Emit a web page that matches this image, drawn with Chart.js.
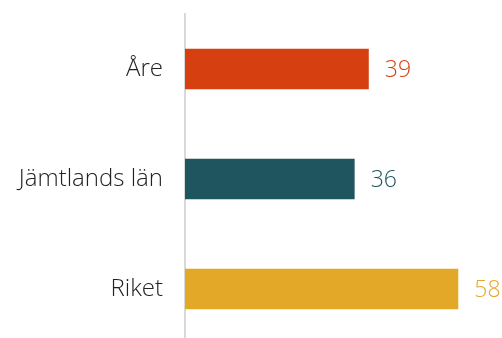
<!DOCTYPE html>
<html><head><meta charset="utf-8">
<script src="https://cdn.jsdelivr.net/npm/chart.js@4"></script>
<style>html,body{margin:0;padding:0;background:#fff}#wrap{width:502px;height:338px;position:relative;overflow:hidden}</style>
</head><body><div id="wrap"><canvas id="c" width="502" height="344"></canvas></div>
<script>
const categories=['Åre','Jämtlands län','Riket'];
const values=[39,36,58];
const colors=['#D63F0F','#1F555E','#E3A827'];
const FONT='"Open Sans", sans-serif';
const valueLabels={id:'valueLabels',afterDatasetsDraw(ch){
  const ctx=ch.ctx; const meta=ch.getDatasetMeta(0);
  ctx.save(); ctx.font='300 23px '+FONT; ctx.textBaseline='middle'; ctx.textAlign='left';
  meta.data.forEach((b,i)=>{ctx.fillStyle=colors[i]; ctx.fillText(String(values[i]),b.x+16,b.y+1);});
  ctx.restore();
}};
new Chart(document.getElementById('c'),{
  type:'bar',
  data:{labels:categories,datasets:[{data:values,backgroundColor:colors,barPercentage:0.37,categoryPercentage:1}]},
  options:{indexAxis:'y',responsive:false,animation:false,
    layout:{padding:{top:14,right:6,bottom:0,left:0}},
    plugins:{legend:{display:false},tooltip:{enabled:false}},
    scales:{
      x:{display:false,min:0,max:66},
      y:{grid:{display:false},border:{display:true,color:'#d9d9d9',width:2},
        afterFit(s){s.width=185;s.paddingTop=0;s.paddingBottom=0;},
        ticks:{color:'#222',padding:14,font:{family:FONT,size:24,weight:300}}}
    }},
  plugins:[valueLabels]
});
</script></body></html>
